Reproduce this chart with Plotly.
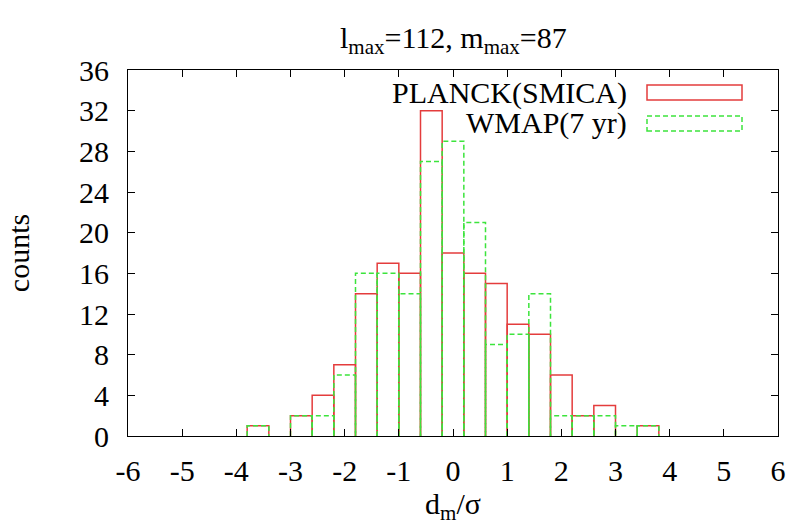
import plotly.graph_objects as go

# Histogram of d_m/sigma, bin width 0.4
bin_centers = [-3.6, -3.2, -2.8, -2.4, -2.0, -1.6, -1.2, -0.8, -0.4, 0.0,
               0.4, 0.8, 1.2, 1.6, 2.0, 2.4, 2.8, 3.2, 3.6]
planck_counts = [1, 0, 2, 4, 7, 14, 17, 16, 32, 18, 16, 15, 11, 10, 6, 2, 3, 0, 1]
wmap_counts = [1, 0, 2, 2, 6, 16, 16, 14, 27, 29, 21, 9, 10, 14, 2, 2, 2, 1, 1]
bin_width = 0.4

x_ticks = [-6, -5, -4, -3, -2, -1, 0, 1, 2, 3, 4, 5, 6]
y_ticks = [0, 4, 8, 12, 16, 20, 24, 28, 32, 36]

RED = "rgb(228,60,60)"
GREEN = "rgb(60,228,60)"
FONT = "'Liberation Serif', 'Times New Roman', Times, serif"
FS = 30

W, H = 797, 529
ML, MR, MT, MB = 128, 19, 70, 93


def box_outline(centers, counts, width):
    """Open-bottom box outlines (gnuplot 'with boxes' style)."""
    xs, ys = [], []
    for c, n in zip(centers, counts):
        if n <= 0:
            continue
        x0, x1 = c - width / 2, c + width / 2
        xs += [x0, x0, x1, x1, None]
        ys += [0, n, n, 0, None]
    return xs, ys


fig = go.Figure()

px, py = box_outline(bin_centers, planck_counts, bin_width)
fig.add_trace(go.Scatter(x=px, y=py, mode="lines", name="PLANCK(SMICA)",
                         line=dict(color=RED, width=1.5), showlegend=False,
                         hoverinfo="skip"))
wx, wy = box_outline(bin_centers, wmap_counts, bin_width)
fig.add_trace(go.Scatter(x=wx, y=wy, mode="lines", name="WMAP(7 yr)",
                         line=dict(color=GREEN, width=1.5, dash="5px,3px"),
                         showlegend=False, hoverinfo="skip"))


def pxx(v):
    return (v - ML) / (W - ML - MR)


def pxy(v):
    return (H - MB - v) / (H - MT - MB)


# Legend drawn as text + sample boxes in the upper right
legend_items = [("PLANCK(SMICA)", RED, "solid", 85, 100, 93),
                ("WMAP(7 yr)", GREEN, "5px,3px", 116, 131, 123)]
for label, color, dash, top, bot, mid in legend_items:
    fig.add_shape(type="rect", xref="paper", yref="paper",
                  x0=pxx(647), x1=pxx(742), y0=pxy(bot), y1=pxy(top),
                  line=dict(color=color, width=1.5, dash=dash))
    fig.add_annotation(text=label, xref="paper", yref="paper",
                       x=pxx(629), y=pxy(mid), xanchor="right", yanchor="middle",
                       showarrow=False, font=dict(family=FONT, size=FS, color="black"))

# Title
fig.add_annotation(text="l<sub>max</sub>=112, m<sub>max</sub>=87",
                   xref="paper", yref="paper", x=0.5, y=pxy(40),
                   xanchor="center", yanchor="middle", showarrow=False,
                   font=dict(family=FONT, size=FS, color="black"))

axis_common = dict(showgrid=False, zeroline=False, showline=True, linecolor="black",
                   linewidth=1, mirror="allticks", ticks="inside", ticklen=7,
                   tickcolor="black", tickwidth=1,
                   tickfont=dict(family=FONT, size=FS, color="black"))

fig.update_xaxes(range=[-6, 6], tickmode="array", tickvals=x_ticks,
                 ticktext=[str(v) for v in x_ticks], ticklabelstandoff=8,
                 title=dict(text="d<sub>m</sub>/σ", font=dict(family=FONT, size=FS,
                                                               color="black"),
                            standoff=1),
                 **axis_common)
fig.update_yaxes(range=[0, 36], tickmode="array", tickvals=y_ticks,
                 ticktext=[str(v) for v in y_ticks], ticklabelstandoff=12,
                 title=dict(text="counts", font=dict(family=FONT, size=FS,
                                                     color="black"),
                            standoff=40),
                 **axis_common)

fig.update_layout(width=W, height=H, margin=dict(l=ML, r=MR, t=MT, b=MB),
                  plot_bgcolor="white", paper_bgcolor="white", showlegend=False,
                  font=dict(family=FONT, size=FS, color="black"))

fig.write_html("out.html")
